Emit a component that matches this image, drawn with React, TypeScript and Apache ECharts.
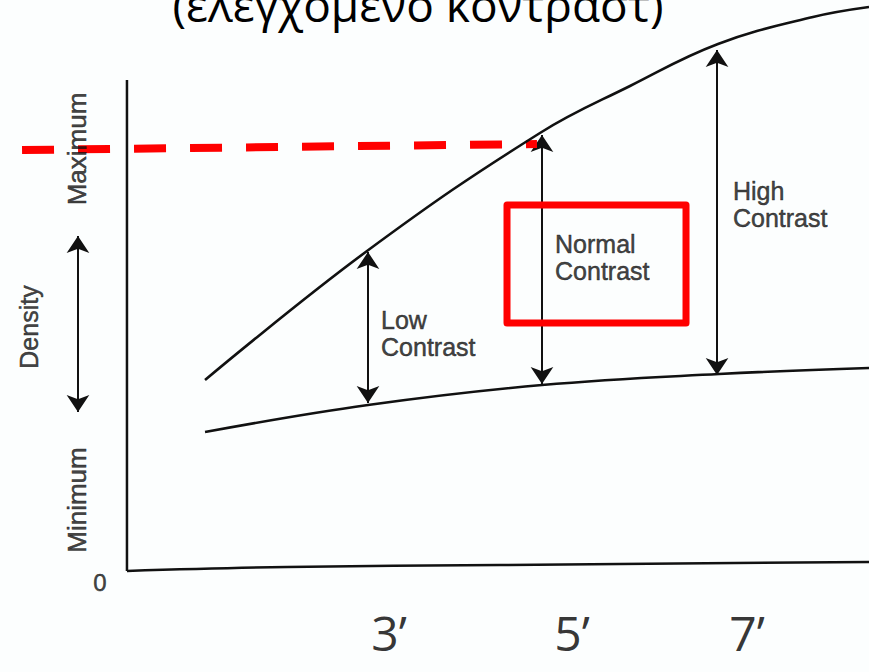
import React, { useEffect, useRef } from "react";
import * as echarts from "echarts";

// Schematic units: x 0..10 across the plot, y (density) 0..10
const upperX = [1.135, 3.298, 5.607, 6.809, 7.984, 9.252, 10.0];
const upperY = [3.345, 5.604, 7.671, 8.494, 9.229, 9.702, 9.877];
const lowerX = [1.135, 3.311, 5.634, 7.997, 10.0];
const lowerY = [2.434, 2.907, 3.257, 3.45, 3.555];
const baseX = [0.093, 2.23, 5.07, 10.0];
const baseY = [0.0, 0.07, 0.105, 0.158];
const axisX = [0.093, 0.093];
const axisY = [0.0, 8.599];

// double arrows: [x, yTop, yBottom]
const arrowNames = ["Low Contrast", "Normal Contrast", "High Contrast", "Density"];
const arrowX = [3.311, 5.634, 7.971, -0.561];
const arrowTop = [5.587, 7.636, 9.124, 5.867];
const arrowBottom = [2.942, 3.275, 3.433, 2.785];

// red reference (maximum density) dashed line
const refX = [-1.308, 5.567];
const refY = [7.373, 7.478];

// red highlight box around "Normal Contrast"
const boxX = [5.167, 7.557];
const boxY = [4.343, 6.41];

// annotation labels
const noteTexts = ["Low\nContrast", "Normal\nContrast", "High\nContrast"];
const noteX = [3.485, 5.808, 8.184];
const noteY = [4.168, 5.499, 6.427];

const sideTexts = ["Maximum", "Density", "Minimum", "0"];
const sideX = [-0.574, -1.215, -0.574, -0.267];
const sideY = [7.391, 4.273, 1.243, -0.21];
const sideRotate = [90, 90, 90, 0];
const sideSize = [26, 25, 26, 24];

const tickLabels = ["3’", "5’", "7’"];
const tickX = [3.591, 6.035, 8.371];
const tickY = [-1.08, -1.08, -1.08];

const titleText = "(ελεγχόμενο κοντράστ)";

const INK = "#111111";
const FONT = "'Liberation Sans', Arial, sans-serif";

export default function App() {
  const ref = useRef<HTMLDivElement>(null);

  useEffect(() => {
    if (!ref.current) return;
    const chart = echarts.init(ref.current, undefined, { renderer: "svg" });

    const zip = (xs: number[], ys: number[]) => xs.map((x, i) => [x, ys[i]]);

    const series: any[] = [
      {
        type: "line",
        name: "axisY",
        data: zip(axisX, axisY),
        symbol: "none",
        clip: false,
        lineStyle: { color: INK, width: 2.5 },
      },
      {
        type: "line",
        name: "baseline",
        data: zip(baseX, baseY),
        symbol: "none",
        smooth: 0.4,
        clip: false,
        lineStyle: { color: INK, width: 2.5 },
      },
      {
        type: "line",
        name: "upper",
        data: zip(upperX, upperY),
        symbol: "none",
        smooth: 0.4,
        clip: false,
        lineStyle: { color: INK, width: 2.6 },
      },
      {
        type: "line",
        name: "lower",
        data: zip(lowerX, lowerY),
        symbol: "none",
        smooth: 0.4,
        clip: false,
        lineStyle: { color: INK, width: 2.6 },
      },
      {
        type: "lines",
        name: "arrows",
        coordinateSystem: "cartesian2d",
        clip: false,
        symbol: ["arrow", "arrow"],
        symbolSize: 17,
        lineStyle: { color: INK, width: 2, opacity: 1, curveness: 0 },
        itemStyle: { color: INK },
        data: arrowX.map((x, i) => ({
          name: arrowNames[i],
          coords: [
            [x, arrowTop[i]],
            [x, arrowBottom[i]],
          ],
        })),
      },
      {
        type: "lines",
        name: "reference",
        coordinateSystem: "cartesian2d",
        clip: false,
        symbol: ["none", "none"],
        lineStyle: {
          color: "#ff0000",
          width: 8,
          opacity: 1,
          curveness: 0,
          type: [32, 24],
          cap: "butt",
        },
        data: [
          {
            name: "Maximum density",
            coords: [
              [refX[0], refY[0]],
              [refX[1], refY[1]],
            ],
          },
        ],
      },
      {
        type: "line",
        name: "box",
        data: [
          [boxX[0], boxY[1]],
          [boxX[1], boxY[1]],
          [boxX[1], boxY[0]],
          [boxX[0], boxY[0]],
          [boxX[0], boxY[1]],
        ],
        symbol: "none",
        clip: false,
        lineStyle: { color: "#ff0000", width: 7, join: "round", cap: "round" },
      },
      {
        type: "scatter",
        name: "notes",
        symbolSize: 0,
        clip: false,
        silent: true,
        data: noteTexts.map((t, i) => ({ name: t, value: [noteX[i], noteY[i]] })),
        label: {
          show: true,
          position: "inside",
          align: "left",
          verticalAlign: "middle",
          formatter: (p: any) => p.name,
          color: INK,
          fontFamily: FONT,
          fontSize: 25,
          lineHeight: 27,
          textBorderColor: INK,
          textBorderWidth: 0.5,
        },
      },
      {
        type: "scatter",
        name: "side",
        symbolSize: 0,
        clip: false,
        silent: true,
        data: sideTexts.map((t, i) => ({
          name: t,
          value: [sideX[i], sideY[i]],
          label: { rotate: sideRotate[i], fontSize: sideSize[i] },
        })),
        label: {
          show: true,
          position: "inside",
          align: "center",
          verticalAlign: "middle",
          formatter: (p: any) => p.name,
          color: INK,
          fontFamily: FONT,
          textBorderColor: INK,
          textBorderWidth: 0.5,
        },
      },
      {
        type: "scatter",
        name: "ticks",
        symbolSize: 0,
        clip: false,
        silent: true,
        data: tickLabels.map((t, i) => ({ name: t, value: [tickX[i], tickY[i]] })),
        label: {
          show: true,
          position: "inside",
          align: "center",
          verticalAlign: "middle",
          formatter: (p: any) => p.name,
          color: "#000000",
          fontFamily: "'Open Sans', 'Noto Sans', sans-serif",
          fontSize: 48,
        },
      },
    ];

    chart.setOption({
      animation: false,
      backgroundColor: "#fcfefe",
      grid: { left: 120, right: 0, top: 0, bottom: 101 },
      xAxis: { type: "value", min: 0, max: 10, show: false },
      yAxis: { type: "value", min: 0, max: 10, show: false },
      graphic: [
        {
          type: "text",
          x: 418,
          y: 4,
          style: {
            text: titleText,
            align: "center",
            verticalAlign: "middle",
            fill: "#000000",
            font: "46px 'Open Sans', 'Noto Sans', sans-serif",
          },
        },
      ],
      series,
    });

    return () => chart.dispose();
  }, []);

  return (
    <div
      ref={ref}
      style={{ position: "fixed", left: 0, top: 0, width: 869, height: 672 }}
    />
  );
}
